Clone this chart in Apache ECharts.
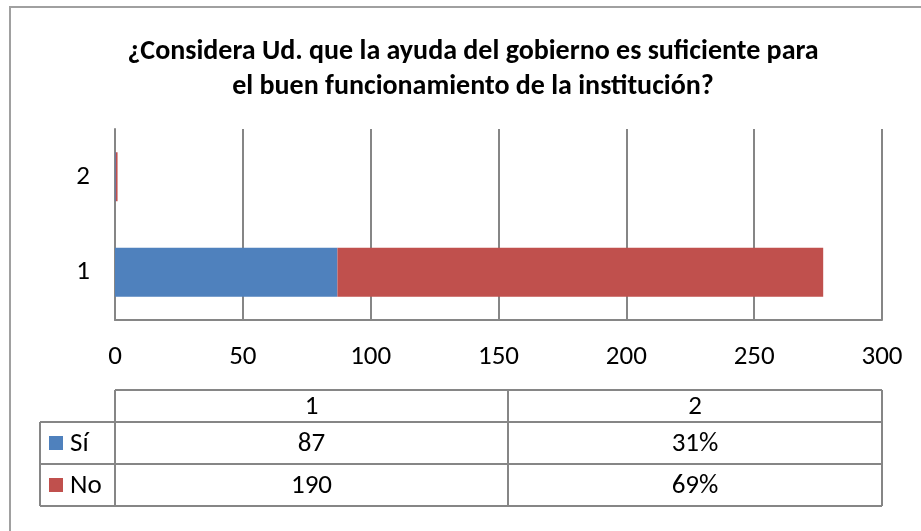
<!DOCTYPE html>
<html><head><meta charset="utf-8">
<script src="https://cdn.jsdelivr.net/npm/echarts@6/dist/echarts.min.js"></script>
<style>html,body{margin:0;padding:0;background:#fff}#c{width:921px;height:531px}</style>
</head><body><div id="c"></div>
<script>
const titleText = '¿Considera Ud. que la ayuda del gobierno es suficiente para\nel buen funcionamiento de la institución?';
const categories = ['1', '2'];
const seriesNames = ['Sí', 'No'];
const siValues = [87, 0.31];
const noValues = [190, 0.69];
const siLabels = ['87', '31%'];
const noLabels = ['190', '69%'];
const xTicks = [0, 50, 100, 150, 200, 250, 300];
const colors = ['#4F81BD', '#C0504D'];

const FONT = 'Carlito, "Liberation Sans Narrow", Lato, sans-serif';
const chart = echarts.init(document.getElementById('c'), null, {renderer: 'canvas'});

const gridLeft = 115, gridRight = 882, gridTop = 129, gridBottom = 320;
const LBL = 27;
const opt = {
  animation: false,
  backgroundColor: '#fff',
  title: {
    text: titleText, left: 468, top: 29, textAlign: 'center',
    textStyle: {fontFamily: FONT, fontWeight: 'bold', fontSize: 28, lineHeight: 35, color: '#000'}
  },
  grid: {left: gridLeft, right: 921 - gridRight, top: gridTop, bottom: 531 - gridBottom},
  xAxis: {
    type: 'value', min: xTicks[0], max: xTicks[xTicks.length - 1], interval: xTicks[1] - xTicks[0],
    axisLine: {show: true, lineStyle: {color: '#868686', width: 2}},
    axisTick: {show: false},
    splitLine: {show: true, lineStyle: {color: '#868686', width: 2}},
    axisLabel: {fontFamily: FONT, fontSize: LBL, color: '#000', margin: 24}
  },
  yAxis: {
    type: 'category', data: categories,
    axisLine: {show: true, lineStyle: {color: '#868686', width: 2}},
    axisTick: {show: false},
    axisLabel: {fontFamily: FONT, fontSize: LBL, color: '#000', margin: 25}
  },
  series: [
    {name: seriesNames[0], type: 'bar', stack: 's', data: siValues, barWidth: 49,
     itemStyle: {color: colors[0]}},
    {name: seriesNames[1], type: 'bar', stack: 's', data: noValues, barWidth: 49,
     itemStyle: {color: colors[1]}}
  ],
  graphic: []
};
chart.setOption(opt);

// data table below the chart
const tX0 = 40, tX1 = gridLeft, tX3 = gridRight;
const tX2 = 508;
const rows = [390, 422, 464, 506];
const line = (x1, y1, x2, y2) => ({type: 'line', shape: {x1, y1, x2, y2}, style: {stroke: '#868686', lineWidth: 2}, silent: true});
const txt = (t, x, y, align) => ({type: 'text', x, y, style: {text: t, fontFamily: FONT, fontSize: LBL, fill: '#000', align: align || 'center', verticalAlign: 'middle'}});
const g = [];
// outer frame
g.push({type: 'rect', shape: {x: 10, y: 7, width: 940, height: 560}, style: {fill: 'none', stroke: '#a0a0a0', lineWidth: 2}, silent: true});
// horizontal lines
g.push(line(tX1, rows[0], tX3, rows[0]));
for (let i = 1; i < rows.length; i++) g.push(line(tX0, rows[i], tX3, rows[i]));
// vertical lines
g.push(line(tX0, rows[1], tX0, rows[3]));
g.push(line(tX1, rows[0], tX1, rows[3]));
g.push(line(tX2, rows[0], tX2, rows[3]));
g.push(line(tX3, rows[0], tX3, rows[3]));
const colCenters = [(tX1 + tX2) / 2, (tX2 + tX3) / 2];
categories.forEach((c, i) => g.push(txt(c, colCenters[i], (rows[0] + rows[1]) / 2 + 1)));
const valRows = [siLabels, noLabels];
seriesNames.forEach((n, r) => {
  const yc = (rows[r + 1] + rows[r + 2]) / 2;
  g.push({type: 'rect', shape: {x: 49, y: yc - 7, width: 14, height: 14}, style: {fill: colors[r]}, silent: true});
  g.push(txt(n, 70, yc + 1, 'left'));
  valRows[r].forEach((v, i) => g.push(txt(v, colCenters[i], yc + 1)));
});
chart.setOption({graphic: g});
</script>
</body></html>
